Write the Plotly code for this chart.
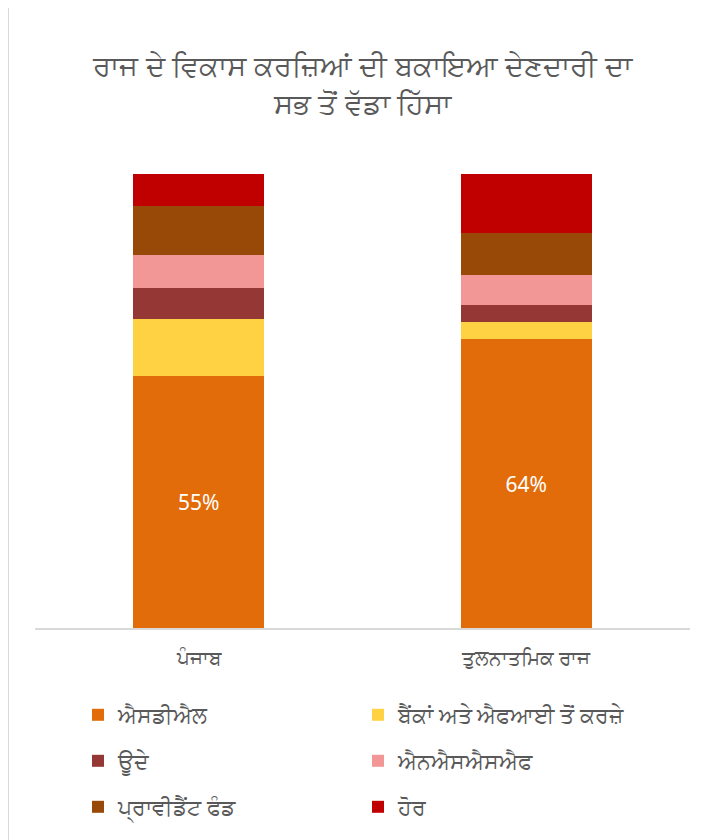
import plotly.graph_objects as go

# categories and series (percent shares of outstanding liabilities)
states = ["ਪੰਜਾਬ", "ਤੁਲਨਾਤਮਿਕ ਰਾਜ"]
series_names = ["ਐਸਡੀਐਲ", "ਬੈਂਕਾਂ ਅਤੇ ਐਫਆਈ ਤੋਂ ਕਰਜ਼ੇ", "ਊਦੇ",
                "ਐਨਐਸਐਸਐਫ", "ਪ੍ਰਾਵੀਡੈਂਟ ਫੰਡ", "ਹੋਰ"]
sdl = [55.4, 63.6]
banks_fi = [12.7, 3.8]
uday = [6.9, 3.8]
nssf = [7.2, 6.5]
provident_fund = [10.7, 9.4]
other = [7.1, 12.9]

colors = ["#E36C0A", "#FFD243", "#953735", "#F29796", "#984807", "#C00000"]
values = [sdl, banks_fi, uday, nssf, provident_fund, other]

FONT = "Noto Sans, Open Sans, sans-serif"
GREY = "#595959"

# the page body adds 8px, so figure is 707x832 and plot area
# is left 27, width 655, bottom 620, height 454 (figure pixels)
W, H = 707, 832
L, R, T, B = 27, 25, 166, 212

def px_x(p):
    return (p - L) / (W - L - R)

def px_y(p):
    return (H - B - p) / (H - T - B)

# one legend per entry, laid out as 2 columns x 3 rows like the reference
leg_cols = [70, 350]
leg_rows = [707, 753, 799]

fig = go.Figure()
layout_legends = {}
for i, (name, vals) in enumerate(zip(series_names, values)):
    lid = "legend" if i == 0 else f"legend{i + 1}"
    fig.add_trace(go.Bar(
        x=states, y=vals, name=name,
        marker=dict(color=colors[i], line=dict(width=0)),
        text=[f"{round(v)}%" for v in vals] if i == 0 else None,
        textposition="inside" if i == 0 else "none",
        insidetextanchor="middle",
        textfont=dict(color="white", size=21, family=FONT),
        legend=lid,
        showlegend=True,
        hoverinfo="name+y",
    ))
    layout_legends[lid] = dict(
        x=px_x(leg_cols[i % 2]), xanchor="left",
        y=px_y(leg_rows[i // 2]), yanchor="middle",
        font=dict(size=22, color=GREY, family=FONT),
        itemwidth=30, bgcolor="rgba(0,0,0,0)", borderwidth=0,
    )

fig.update_layout(
    width=W, height=H,
    showlegend=True,
    barmode="stack", bargap=0.6,
    plot_bgcolor="white", paper_bgcolor="white",
    margin=dict(l=L, r=R, t=T, b=B, autoexpand=False),
    font=dict(family=FONT, color=GREY),
    title=dict(text="ਰਾਜ ਦੇ ਵਿਕਾਸ ਕਰਜ਼ਿਆਂ ਦੀ ਬਕਾਇਆ ਦੇਣਦਾਰੀ ਦਾ<br>ਸਭ ਤੋਂ ਵੱਡਾ ਹਿੱਸਾ",
               x=0.5, xref="paper", xanchor="center",
               y=1 - 68 / H, yref="container", yanchor="middle",
               font=dict(size=29, color=GREY, family=FONT)),
    xaxis=dict(showline=True, linecolor="#D9D9D9", linewidth=1.5,
               ticks="", tickfont=dict(size=20, color=GREY, family=FONT),
               ticklabelstandoff=11, showgrid=False),
    yaxis=dict(range=[0, 100], visible=False, showgrid=False),
    shapes=[
        dict(type="line", xref="paper", yref="paper",
             x0=px_x(0.5), x1=px_x(0.5), y0=px_y(0), y1=px_y(H),
             line=dict(color="#D9D9D9", width=1)),
    ],
    **layout_legends,
)

fig.write_html("out.html")
